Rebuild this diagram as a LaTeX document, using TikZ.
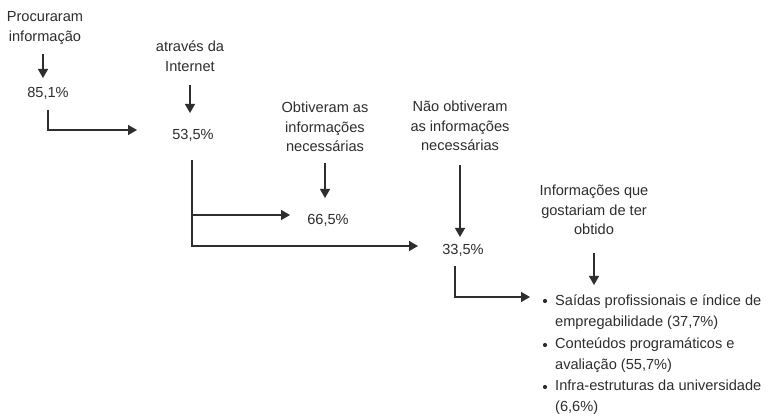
\documentclass[tikz,border=0pt]{standalone}
\usepackage{fontspec}
\setmainfont{Liberation Sans}
\usetikzlibrary{arrows.meta}
\definecolor{ink}{HTML}{2E2E2E}
\begin{document}
\begin{tikzpicture}[x=1pt,y=-1pt,
  lbl/.style={align=center,inner sep=0pt,text=ink,font=\fontsize{14.6}{19.5}\selectfont},
  item/.style={align=left,inner sep=0pt,text=ink,anchor=west,font=\fontsize{14.6}{20.5}\selectfont},
  arr/.style={draw=ink,line width=1.4pt,-{Triangle[length=9pt,width=10pt]}},
  dot/.style={circle,fill=ink,inner sep=0pt,minimum size=4.2pt}]
\useasboundingbox[fill=white] (0,0) rectangle (768,419);
% texts
\node[lbl] (proc) at (45,28) {Procuraram\\informação};
\node[lbl] (p851) at (48,93) {85,1\%};
\node[lbl] (atr) at (190,56) {através da\\Internet};
\node[lbl] (p535) at (193,135) {53,5\%};
\node[lbl] (obt) at (325,127) {Obtiveram as\\informações\\necessárias};
\node[lbl] (p665) at (328,220) {66,5\%};
\node[lbl] (nao) at (460,126) {Não obtiveram\\as informações\\necessárias};
\node[lbl] (p335) at (463,250) {33,5\%};
\node[lbl] (inf) at (594,210) {Informações que\\gostariam de ter\\obtido};
\node[item] (i1) at (555,312) {Saídas profissionais e índice de\\empregabilidade (37,7\%)};
\node[item] (i2) at (555,355) {Conteúdos programáticos e\\avaliação (55,7\%)};
\node[item] (i3) at (555,397) {Infra-estruturas da universidade\\(6,6\%)};
\node[dot] (b1) at (545,301) {};
\node[dot] (b2) at (545,345) {};
\node[dot] (b3) at (545,387) {};
% connector ends
\coordinate (a1s) at (43,54);  \coordinate (a1e) at (43,78);
\coordinate (e1s) at (48,110); \coordinate (e1e) at (137,130);
\coordinate (a2s) at (190,85); \coordinate (a2e) at (190,113);
\coordinate (e2s) at (192,160); \coordinate (e2a) at (290,215); \coordinate (e2b) at (418,246);
\coordinate (a3s) at (325,163); \coordinate (a3e) at (325,198);
\coordinate (a4s) at (460,165); \coordinate (a4e) at (460,237);
\coordinate (e3s) at (455,266); \coordinate (e3e) at (530,297);
\coordinate (a5s) at (594,253); \coordinate (a5e) at (594,285);
% connectors
\draw[arr] (a1s) -- (a1e);
\draw[arr] (e1s) |- (e1e);
\draw[arr] (a2s) -- (a2e);
\draw[arr] (e2s) |- (e2a);
\draw[arr] (e2s) |- (e2b);
\draw[arr] (a3s) -- (a3e);
\draw[arr] (a4s) -- (a4e);
\draw[arr] (e3s) |- (e3e);
\draw[arr] (a5s) -- (a5e);
\end{tikzpicture}
\end{document}
